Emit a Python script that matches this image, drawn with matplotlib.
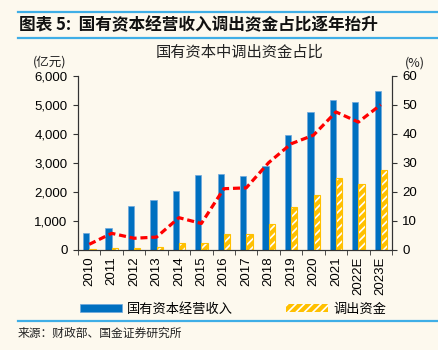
"""State capital operating income vs. funds transferred out, with ratio line."""

import matplotlib.pyplot as plt
import numpy as np
from matplotlib.lines import Line2D

plt.rcParams["font.family"] = ["Liberation Sans", "Noto Sans CJK SC", "DejaVu Sans"]
plt.rcParams["hatch.color"] = "white"
plt.rcParams["hatch.linewidth"] = 1.2

years = ["2010", "2011", "2012", "2013", "2014", "2015", "2016", "2017",
         "2018", "2019", "2020", "2021", "2022E", "2023E"]
income = [555, 750, 1505, 1715, 2010, 2560, 2600, 2555, 2890, 3950, 4750, 5150, 5110, 5470]
transfer = [10, 45, 60, 75, 225, 230, 552, 552, 875, 1460, 1900, 2460, 2255, 2740]
ratio = [1.8, 5.6, 3.9, 4.3, 11.0, 9.0, 21.0, 21.3, 30.0, 36.5, 39.5, 47.5, 44.0, 50.0]

CJK = ["Noto Sans CJK SC", "DejaVu Sans"]
BG = "#FDF9EE"
BLUE = "#0070C0"
YELLOW = "#FFC000"
RULE = "#3FAEE6"

fig = plt.figure(figsize=(4.39, 3.5), dpi=100, facecolor=BG)
ax = fig.add_axes([0.1777, 0.287, 0.7153, 0.4966], facecolor=BG)
ax2 = ax.twinx()

x = np.arange(len(years))
w = 0.28
ax.bar(x - w / 2, income, width=w, color=BLUE, edgecolor="#6FA8DC",
       linewidth=0.5, label="国有资本经营收入", zorder=2)
ax.bar(x + w / 2, transfer, width=w, color=YELLOW, hatch="////",
       label="调出资金", zorder=2)
ax.bar(x + w / 2, transfer, width=w, fill=False, edgecolor=YELLOW,
       linewidth=0.8, zorder=3)

ax2.plot(x, ratio, color="#FF0000", linewidth=2.3, dashes=(2.2, 1.2), zorder=4)

ax.set_xlim(-0.5, len(years) - 0.5)
ax.set_ylim(0, 6000)
ax2.set_ylim(0, 60)
ax.set_yticks(np.arange(0, 6001, 1000))
ax.set_yticklabels([f"{v:,}" for v in range(0, 6001, 1000)])
ax2.set_yticks(np.arange(0, 61, 10))

ax.set_xticks(x)
ax.set_xticklabels(years, rotation=90, fontsize=9.5)
ax.set_xticks(np.arange(-0.5, len(years)), minor=True)
ax.tick_params(axis="x", which="major", length=0, pad=5)
ax.tick_params(axis="x", which="minor", length=3.5, direction="out", color="#333333")
ax.tick_params(axis="y", length=3.5, direction="out", labelsize=9.5, color="#333333", pad=4)
ax2.tick_params(axis="y", length=3.5, direction="out", labelsize=9.5, color="#333333", pad=4)

for a in (ax, ax2):
    a.spines["top"].set_visible(False)
    for s in ("left", "right", "bottom"):
        a.spines[s].set_color("#333333")
        a.spines[s].set_linewidth(0.8)
ax2.set_zorder(ax.get_zorder() + 1)
ax2.patch.set_visible(False)

# header / footer
fig.add_artist(Line2D([0.041, 1.0], [1 - 12.3 / 350] * 2, color=RULE, lw=1.6))
fig.add_artist(Line2D([0.041, 1.0], [1 - 37.5 / 350] * 2, color=RULE, lw=1.6))
fig.add_artist(Line2D([0.041, 1.0], [1 - 321 / 350] * 2, color=RULE, lw=1.6))
fig.text(0.043, 1 - 25 / 350, "图表 5:  国有资本经营收入调出资金占比逐年抬升",
         family=CJK, fontsize=12, fontweight="bold", va="center", ha="left",
         color="#111111")
fig.text(240 / 439, 1 - 52 / 350, "国有资本中调出资金占比", family=CJK,
         fontsize=11, ha="center", va="center", color="#222222")
fig.text(50 / 439, 1 - 62 / 350, "(亿元)", family=CJK, fontsize=9,
         ha="center", va="center", color="#222222")
fig.text(415 / 439, 1 - 63.5 / 350, "(%)", family=CJK, fontsize=9,
         ha="center", va="center", color="#222222")
fig.text(0.041, 1 - 333 / 350, "来源：财政部、国金证券研究所", family=CJK,
         fontsize=8.5, ha="left", va="center", color="#222222")

handles, labels = ax.get_legend_handles_labels()
fig.legend(handles, labels, loc="center", bbox_to_anchor=(233 / 439, 1 - 309.5 / 350),
           ncol=2, frameon=False, prop={"family": CJK, "size": 9.5},
           handlelength=3.2, handleheight=0.55, columnspacing=4.0, handletextpad=0.4)

fig.savefig("out.png", dpi=100, facecolor=BG)
